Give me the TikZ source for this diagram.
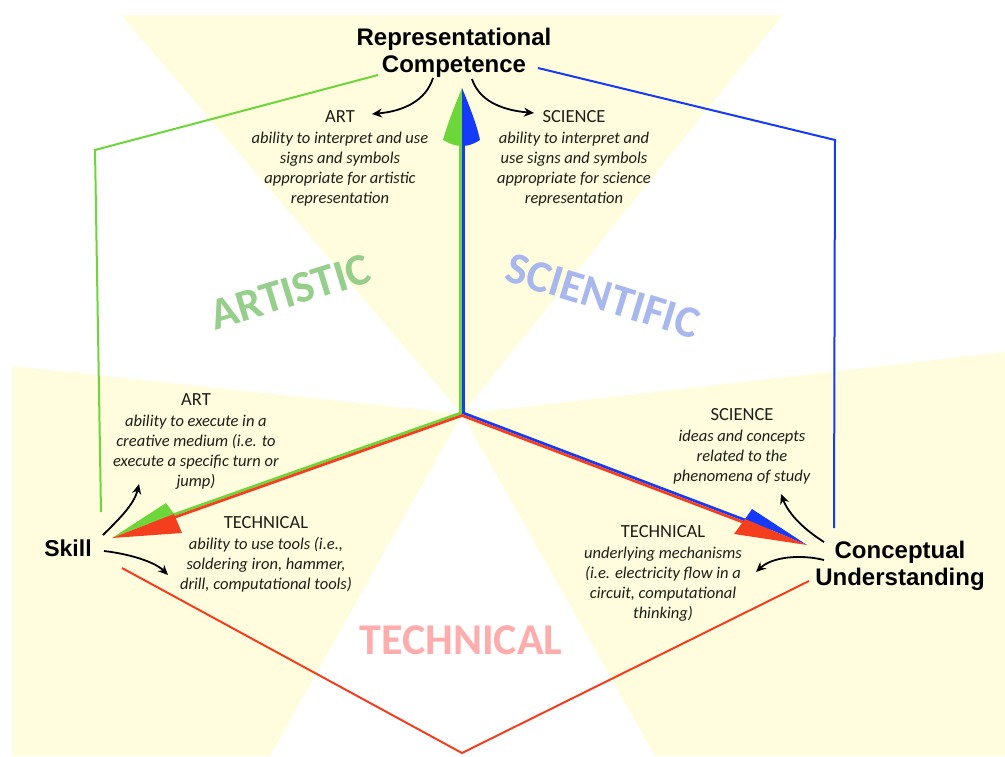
\documentclass[tikz,border=0pt]{standalone}
\usepackage{fontspec}
\setmainfont{Carlito}
\newfontfamily\headfont{Liberation Sans}
\usetikzlibrary{arrows.meta,calc}

\definecolor{bgyellow}{RGB}{255,253,222}
\definecolor{axgreen}{RGB}{108,214,58}
\definecolor{axblue}{RGB}{22,58,250}
\definecolor{axred}{RGB}{244,62,30}
\definecolor{artgreen}{RGB}{150,206,140}
\definecolor{sciblue}{RGB}{168,184,238}
\definecolor{techpink}{RGB}{255,172,172}
\definecolor{ink}{RGB}{30,30,24}

\tikzset{
  head/.style={font=\headfont\bfseries\fontsize{24}{27}\selectfont, align=center, inner sep=0pt, text=black},
  desc/.style={align=center, inner sep=0pt, text=ink, font=\fontsize{16.5}{20}\selectfont},
  dimlabel/.style={font=\bfseries\fontsize{45}{45}\selectfont, inner sep=0pt},
  curl/.style={-{Stealth[length=10pt,width=9pt]}, line width=1.8pt, black},
  frame/.style={line width=2pt},
  shaft/.style={line width=2.7pt},
}

\newcommand{\hd}[1]{{\fontsize{18.5}{20}\selectfont #1}\\[1pt]}

\begin{document}
\begin{tikzpicture}[x=1pt,y=-1pt]
\useasboundingbox (0,0) rectangle (1005,756);

% origin of the three axes
\coordinate (O) at (462,414);

% pale sectors behind the axes
\fill[bgyellow] (121,15) -- (783,15) -- (O) -- cycle;
\fill[bgyellow] (12,366) -- (O) -- (270,756) -- (12,756) -- cycle;
\fill[bgyellow] (1005,352) -- (O) -- (655,756) -- (1005,756) -- cycle;

% faded plane labels
\node[dimlabel, text=artgreen, rotate=17] (artistic) at (290,292) {ARTISTIC};
\node[dimlabel, text=sciblue, rotate=-17] (scientific) at (603,296) {SCIENTIFIC};
\node[dimlabel, text=techpink, font=\bfseries\fontsize{44}{44}\selectfont] (technical) at (461,640) {TECHNICAL};

% axis end points
\coordinate (TT) at (462,88);
\coordinate (TS) at (112,538);
\coordinate (TC) at (807,545);

% plane outlines
\coordinate (g1) at (378,75);
\coordinate (g2) at (95,150);
\coordinate (g3) at (101,512);
\draw[frame, axgreen] (g1) -- (g2) -- (g3);
\coordinate (b1) at (538,68);
\coordinate (b2) at (835,140);
\coordinate (b3) at (834,528);
\draw[frame, axblue] (b1) -- (b2) -- (b3);
\coordinate (r1) at (122,568);
\coordinate (r2) at (462,753);
\coordinate (r3) at (809,581);
\draw[frame, axred] (r1) -- (r2) -- (r3);

% axis shafts, two colours side by side
\draw[shaft, axgreen] ([xshift=-1.3pt]O) -- ([xshift=-1.3pt]$(TT)!40pt!(O)$);
\draw[shaft, axblue]  ([xshift=1.3pt]O) -- ([xshift=1.3pt]$(TT)!40pt!(O)$);
\draw[shaft, axgreen] ([shift={(-0.45,-1.3)}]O) -- ([shift={(-0.45,-1.3)}]$(TS)!40pt!(O)$);
\draw[shaft, axred]   ([shift={(0.45,1.3)}]O) -- ([shift={(0.45,1.3)}]$(TS)!40pt!(O)$);
\draw[shaft, axblue]  ([shift={(0.48,-1.3)}]O) -- ([shift={(0.48,-1.3)}]$(TC)!40pt!(O)$);
\draw[shaft, axred]   ([shift={(-0.48,1.3)}]O) -- ([shift={(-0.48,1.3)}]$(TC)!40pt!(O)$);

% split arrowheads
\fill[axgreen] (TT) .. controls (455,105) and (447,125) .. (443,140)
  .. controls (450,144) and (456,146) .. (462,146) -- cycle;
\fill[axblue] (TT) .. controls (469,105) and (477,125) .. (480,140)
  .. controls (474,144) and (468,146) .. (462,146) -- cycle;
\fill[axgreen] (TS) -- (166,503) -- (174,514) -- cycle;
\fill[axred] (TS) -- (174,514) -- (182,533) -- cycle;
\fill[axblue] (TC) -- (752,509) -- (745,519) -- cycle;
\fill[axred] (TC) -- (745,519) -- (734,534) -- cycle;

% main concepts
\node[head] (rc) at (454,53) {Representational\\Competence};
\node[head, font=\headfont\bfseries\fontsize{23}{27}\selectfont] (skill) at (68,548) {Skill};
\node[head] (cu) at (900,566) {Conceptual\\Understanding};

% descriptions
\node[desc] (artrep) at (340,158) {\hd{ART}\textit{ability to interpret and use}\\\textit{signs and symbols}\\\textit{appropriate for artistic}\\\textit{representation}};
\node[desc] (scirep) at (574,158) {\hd{SCIENCE}\textit{ability to interpret and}\\\textit{use signs and symbols}\\\textit{appropriate for science}\\\textit{representation}};
\node[desc] (artskill) at (196,441) {\hd{ART}\textit{ability to execute in a}\\\textit{creative medium (i.e. to}\\\textit{execute a specific turn or}\\\textit{jump)}};
\node[desc] (techskill) at (266,554) {\hd{TECHNICAL}\textit{ability to use tools (i.e.,}\\\textit{soldering iron, hammer,}\\\textit{drill, computational tools)}};
\node[desc] (scicu) at (742,446) {\hd{SCIENCE}\textit{ideas and concepts}\\\textit{related to the}\\\textit{phenomena of study}};
\node[desc] (techcu) at (663,573) {\hd{TECHNICAL}\textit{underlying mechanisms}\\\textit{(i.e. electricity flow in a}\\\textit{circuit, computational}\\\textit{thinking)}};

% curved pointers from each concept to its two readings
\coordinate (c1s) at (433,78);  \coordinate (c1e) at (372,114);
\coordinate (c2s) at (472,79);  \coordinate (c2e) at (534,113);
\coordinate (c3s) at (103,535); \coordinate (c3e) at (139,484);
\coordinate (c4s) at (104,551); \coordinate (c4e) at (168,575);
\coordinate (c5s) at (824,542); \coordinate (c5e) at (781,494);
\coordinate (c6s) at (824,560); \coordinate (c6e) at (756,572);
\draw[curl] (c1s) .. controls (426,100) and (405,111) .. (c1e);
\draw[curl] (c2s) .. controls (479,100) and (500,110) .. (c2e);
\draw[curl] (c3s) .. controls (118,520) and (134,505) .. (c3e);
\draw[curl] (c4s) .. controls (130,554) and (155,562) .. (c4e);
\draw[curl] (c5s) .. controls (805,530) and (789,515) .. (c5e);
\draw[curl] (c6s) .. controls (800,554) and (772,557) .. (c6e);
\end{tikzpicture}
\end{document}
